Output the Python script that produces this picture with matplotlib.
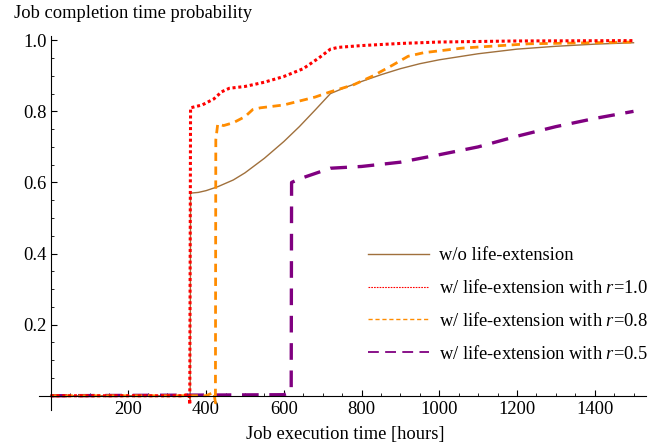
import matplotlib
matplotlib.use('Agg')
import matplotlib.pyplot as plt
from matplotlib.lines import Line2D
from matplotlib.ticker import MultipleLocator

plt.rcParams['font.family'] = ['Liberation Serif']
plt.rcParams['mathtext.fontset'] = 'custom'
plt.rcParams['mathtext.it'] = 'Liberation Serif:italic'
plt.rcParams['mathtext.rm'] = 'Liberation Serif'

# w/o life-extension
x_base = [0, 300, 357, 359, 360, 380, 400, 430, 470, 500, 550, 600, 640, 680, 720,
          760, 800, 850, 900, 950, 1000, 1100, 1200, 1300, 1400, 1500]
y_base = [0, 0, 0, -0.01, 0.57, 0.572, 0.577, 0.588, 0.607, 0.627, 0.668, 0.715, 0.757, 0.803, 0.85,
          0.868, 0.884, 0.903, 0.92, 0.934, 0.945, 0.962, 0.975, 0.983, 0.989, 0.993]

# r = 1.0
x_r10 = [0, 340, 356, 358, 360, 390, 420, 440, 460, 500, 550, 600, 650, 690, 720,
         740, 800, 900, 1000, 1200, 1500]
y_r10 = [0, 0, 0.005, -0.025, 0.81, 0.818, 0.835, 0.855, 0.865, 0.87, 0.882, 0.898, 0.92, 0.95, 0.975,
         0.98, 0.985, 0.991, 0.995, 0.998, 0.999]

# r = 0.8
x_r08 = [0, 400, 420, 424, 425, 430, 445, 470, 500, 520, 540, 600, 680, 720,
         780, 830, 880, 920, 960, 1060, 1230, 1500]
y_r08 = [0, 0, 0.01, -0.02, 0.72, 0.765, 0.76, 0.768, 0.785, 0.805, 0.81, 0.818, 0.84, 0.855,
         0.875, 0.9, 0.93, 0.955, 0.965, 0.978, 0.99, 0.995]

# r = 0.5
x_r05 = [0, 600, 619, 620, 640, 680, 720, 800, 900, 1000, 1100, 1200, 1300, 1400, 1500]
y_r05 = [0, 0.003, 0.01, 0.6, 0.61, 0.625, 0.64, 0.645, 0.657, 0.678, 0.70, 0.73, 0.757, 0.78, 0.80]

labels = ['w/o life-extension',
          'w/ life-extension with $r$=1.0',
          'w/ life-extension with $r$=0.8',
          'w/ life-extension with $r$=0.5']
colors = ['#a0703c', '#ff0000', '#ff8c00', '#800080']
fs = 13.3

fig = plt.figure(figsize=(6.68, 4.47), dpi=100)
ax = fig.add_axes([0.0584, 0.0828, 0.9086, 0.8367])

ax.plot(x_base, y_base, color=colors[0], lw=1.0)
ax.plot(x_r05, y_r05, color=colors[3], lw=2.4, linestyle=(0, (5, 3.2)))
ax.plot(x_r08, y_r08, color=colors[2], lw=2.0, linestyle=(0, (3, 2)))
ax.plot(x_r10, y_r10, color=colors[1], lw=2.2, linestyle=(0, (1, 0.9)))

ax.set_xlim(-30, 1532)
ax.set_ylim(-0.04, 1.012)

for s in ['top', 'right']:
    ax.spines[s].set_visible(False)
ax.spines['left'].set_position(('data', 0))
ax.spines['bottom'].set_position(('data', 0))
ax.spines['left'].set_linewidth(0.8)
ax.spines['bottom'].set_linewidth(0.8)

ax.set_xticks([200, 400, 600, 800, 1000, 1200, 1400])
ax.set_yticks([0.2, 0.4, 0.6, 0.8, 1.0])
ax.set_yticklabels(['0.2', '0.4', '0.6', '0.8', '1.0'])
ax.xaxis.set_minor_locator(MultipleLocator(50))
ax.yaxis.set_minor_locator(MultipleLocator(0.05))
ax.tick_params(which='major', direction='in', length=4.5, width=0.8, labelsize=fs)
ax.tick_params(axis='y', which='major', pad=3)
ax.tick_params(axis='x', which='major', pad=4)
ax.tick_params(which='minor', direction='in', length=2.5, width=0.6)

fig.text(14 / 668, 1 - 14 / 447, 'Job completion time probability', fontsize=fs, va='center', ha='left')
fig.text(345 / 668, 1 - 435 / 447, 'Job execution time [hours]', fontsize=fs, va='center', ha='center')

handles = [Line2D([], [], color=colors[0], lw=1.0),
           Line2D([], [], color=colors[1], lw=0.8, linestyle=(0, (1.5, 1))),
           Line2D([], [], color=colors[2], lw=1.0, linestyle=(0, (3, 2))),
           Line2D([], [], color=colors[3], lw=1.3, linestyle=(0, (6, 3.5)))]
ax.legend(handles, labels, loc='upper left', bbox_to_anchor=(359 / 668, 1 - 238 / 447),
          bbox_transform=fig.transFigure, frameon=False, fontsize=fs,
          handlelength=3.3, handletextpad=0.55, labelspacing=0.8, borderpad=0)

fig.savefig('out.png', dpi=100)
